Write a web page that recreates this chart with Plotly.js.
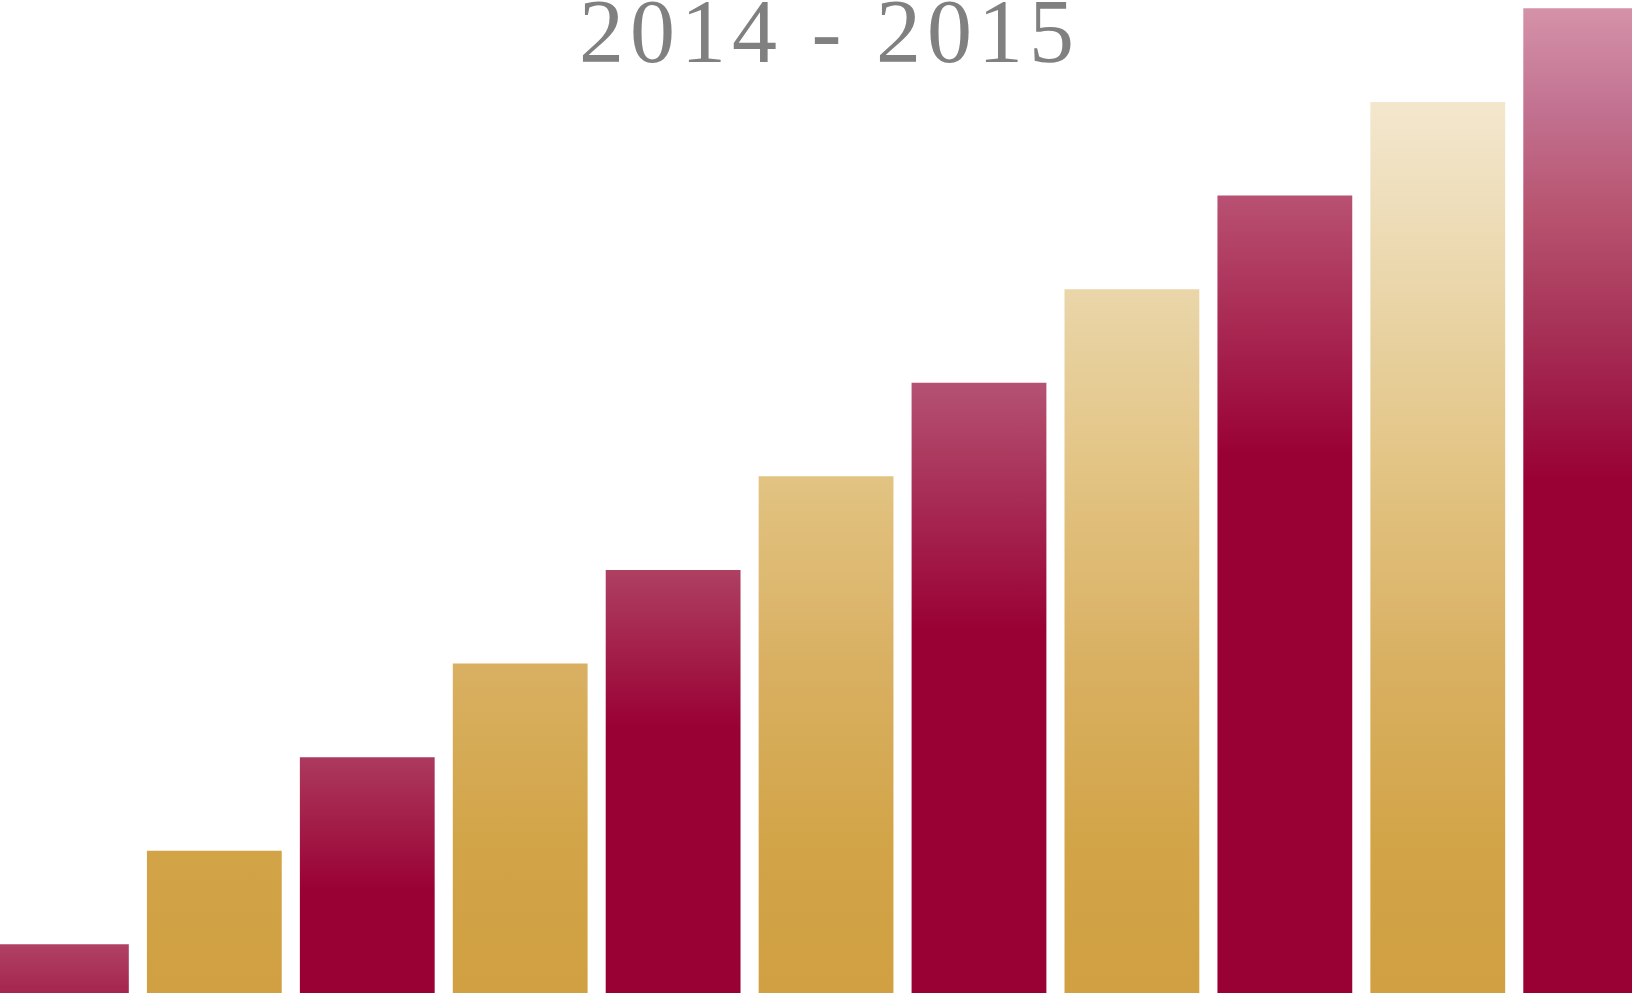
<!DOCTYPE html>
<html>
<head>
<meta charset="utf-8">
<script src="https://cdn.plot.ly/plotly-3.0.1.min.js"></script>
<style>
  html, body { margin: 0; padding: 0; background: #ffffff; overflow: hidden; }
  #chart { width: 1632px; height: 993px; }
</style>
</head>
<body>
<div id="chart"></div>
<script>
// ---- data ----
const categories = ['1', '2', '3', '4', '5', '6', '7', '8', '9', '10', '11'];
const values = [1, 2, 3, 4, 5, 6, 7, 8, 9, 10, 11];
const barGroup = ['crimson', 'gold', 'crimson', 'gold', 'crimson', 'gold',
                  'crimson', 'gold', 'crimson', 'gold', 'crimson'];
const titleText = '2014 - 2015';

// ---- style ----
const baseColors = { crimson: '#990033', gold: '#D0A042' };
// per-bar fades for crimson bars (offsets are fractions of the bar height, top = 0)
const crimsonFades = {
  0: [[0, '#B04264'], [1, '#9B0A3A']],
  2: [[0, '#AC3A5E'], [0.48, '#990033'], [1, '#990033']],
  4: [[0, '#AE4062'], [0.34, '#990033'], [1, '#990033']],
  6: [[0, '#B45272'], [0.38, '#990033'], [1, '#990033']],
  8: [[0, '#B85172'], [0.31, '#990033'], [1, '#990033']],
  10: [[0, '#D492A8'], [0.1, '#C27190'], [0.2, '#B7536F'], [0.3, '#A8355A'],
       [0.4, '#9D1442'], [0.46, '#990033'], [1, '#990033']]
};
// gold bars share one gradient laid over the whole plot height (top = 0)
const goldFade = [[0.10, '#F3E7CE'], [0.29, '#EAD6AA'], [0.48, '#E2C382'],
                  [0.67, '#D9B062'], [0.856, '#D2A447'], [1, '#D0A042']];

const trace = {
  type: 'bar',
  x: categories,
  y: values,
  marker: { color: barGroup.map(g => baseColors[g]), line: { width: 0 } },
  hoverinfo: 'none'
};

const layout = {
  width: 1632,
  height: 993,
  margin: { l: 0, r: 0, t: 0, b: 0, pad: 0 },
  paper_bgcolor: '#ffffff',
  plot_bgcolor: '#ffffff',
  showlegend: false,
  bargap: 0.1185,
  title: {
    text: titleText,
    font: { family: 'Liberation Serif, DejaVu Serif, serif', size: 90, color: '#808080' },
    x: 0.5083, xanchor: 'center', xref: 'paper',
    y: 0.9692, yanchor: 'middle', yref: 'container',
    automargin: false
  },
  xaxis: {
    type: 'category', range: [-0.4015, 10.27],
    visible: false, showgrid: false, zeroline: false, fixedrange: true
  },
  yaxis: {
    range: [0.48, 11.089],
    visible: false, showgrid: false, zeroline: false, fixedrange: true
  }
};

function applyGradients(gd) {
  const NS = 'http://www.w3.org/2000/svg';
  const svg = gd.querySelector('.main-svg');
  let defs = svg.querySelector('defs');
  if (!defs) { defs = document.createElementNS(NS, 'defs'); svg.insertBefore(defs, svg.firstChild); }
  const plotH = gd._fullLayout._size.h;

  function makeGrad(id, stops, userSpace) {
    const g = document.createElementNS(NS, 'linearGradient');
    g.setAttribute('id', id);
    g.setAttribute('x1', '0'); g.setAttribute('x2', '0');
    g.setAttribute('y1', '0');
    if (userSpace) {
      g.setAttribute('gradientUnits', 'userSpaceOnUse');
      g.setAttribute('y2', String(plotH));
    } else {
      g.setAttribute('y2', '1');
    }
    stops.forEach(([o, c]) => {
      const s = document.createElementNS(NS, 'stop');
      s.setAttribute('offset', String(o));
      s.setAttribute('stop-color', c);
      g.appendChild(s);
    });
    defs.appendChild(g);
  }

  makeGrad('goldGrad', goldFade, true);
  Object.keys(crimsonFades).forEach(k => makeGrad('crimsonGrad' + k, crimsonFades[k], false));

  const paths = gd.querySelectorAll('.barlayer .trace .point path');
  paths.forEach((p, i) => {
    if (barGroup[i] === 'gold') {
      p.style.fill = 'url(#goldGrad)';
    } else if (crimsonFades[i]) {
      p.style.fill = 'url(#crimsonGrad' + i + ')';
    }
  });

  // wider tracking for the title, as in the reference lettering
  const t = gd.querySelector('.gtitle');
  if (t) t.style.letterSpacing = '6px';
}

Plotly.newPlot('chart', [trace], layout, { staticPlot: true, displayModeBar: false })
  .then(applyGradients);
</script>
</body>
</html>
